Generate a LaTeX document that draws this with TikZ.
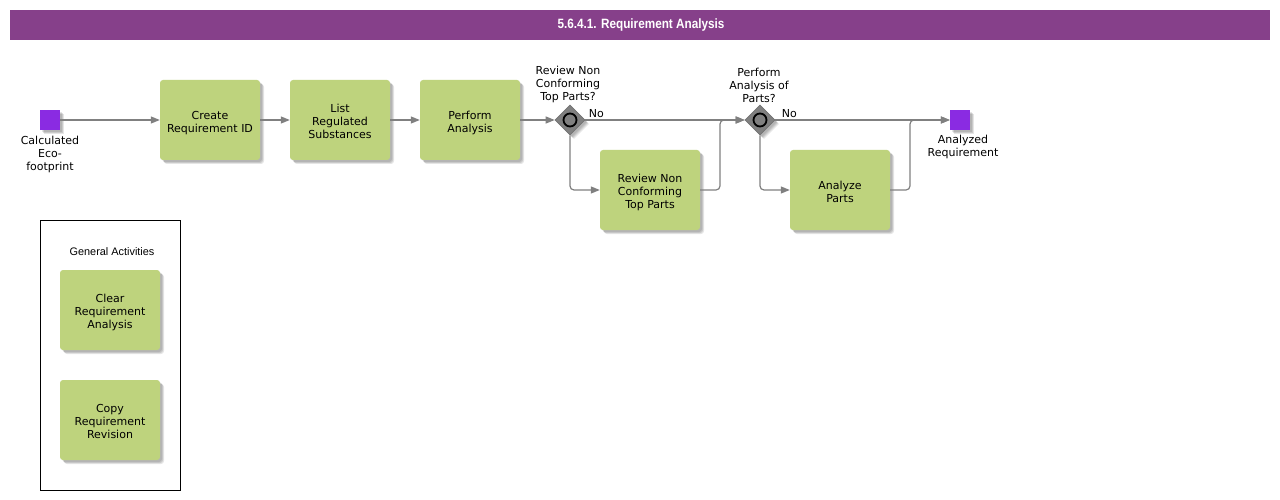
\documentclass[tikz,border=0pt]{standalone}
\usepackage{fontspec}
\setmainfont{DejaVu Sans}
\newfontfamily\titlefont{Liberation Sans}[FakeStretch=0.87]
\newfontfamily\arialfont{Liberation Sans}
\usetikzlibrary{shapes.geometric,arrows.meta,shadows}
\definecolor{titlepurple}{HTML}{86408A}
\definecolor{taskgreen}{HTML}{BED37D}
\definecolor{eventpurple}{HTML}{8A2BE2}
\definecolor{linegray}{HTML}{808080}
\definecolor{gwgray}{HTML}{808080}
\newcommand{\tasktext}[1]{\raisebox{-3pt}[\height][\depth]{\begin{tabular}{@{}c@{}}#1\end{tabular}}}
\begin{document}
\begin{tikzpicture}[x=1pt,y=-1pt,
  shd/.style={
    drop shadow={shadow xshift=4pt, shadow yshift=-4pt, fill=black, opacity=0.10},
    drop shadow={shadow xshift=3pt, shadow yshift=-3pt, fill=black, opacity=0.12},
    drop shadow={shadow xshift=2pt, shadow yshift=-2pt, fill=black, opacity=0.10}},
  task/.style={rectangle, rounded corners=3pt, fill=taskgreen, minimum width=100pt, minimum height=80pt,
    align=center, font=\fontsize{11}{13}\selectfont, inner sep=2pt, shd},
  event/.style={rectangle, fill=eventpurple, minimum size=20pt, inner sep=0pt, shd},
  gateway/.style={diamond, fill=gwgray, draw=black!55, line width=0.6pt, minimum width=30pt, minimum height=30pt, inner sep=0pt, shd},
  gwcircle/.style={circle, draw=black, line width=1.8pt, fill=gwgray, minimum size=13pt, inner sep=0pt},
  flow/.style={draw=linegray, line width=1.2pt, -{Triangle[length=9pt,width=7pt]}, rounded corners=4pt},
  lbl/.style={font=\fontsize{11}{13}\selectfont, align=center, inner sep=1pt}
]
\useasboundingbox (0,0) rectangle (1280,500);
\fill[white] (0,0) rectangle (1280,500);

% title bar
\fill[titlepurple] (10,10) rectangle (1270,40);
\node[font=\titlefont\bfseries\fontsize{13.5}{15}\selectfont, text=white] (title) at (641,25.5) {5.6.4.1. Requirement Analysis};

% events
\node[event] (start) at (50,120) {};
\node[lbl, anchor=north] (startlbl) at (50,135) {Calculated\\Eco-\\footprint};
\node[event] (end) at (960,120) {};
\node[lbl, anchor=north] (endlbl) at (963,134) {Analyzed\\Requirement};

% tasks
\node[task] (create) at (210,120) {\tasktext{Create\\Requirement ID}};
\node[task] (list) at (340,120) {\tasktext{List\\Regulated\\Substances}};
\node[task] (perform) at (470,120) {\tasktext{Perform\\Analysis}};
\node[task] (review) at (650,190) {\tasktext{Review Non\\Conforming\\Top Parts}};
\node[task] (analyze) at (840,190) {\tasktext{Analyze\\Parts}};

% gateways
\node[gateway] (g1) at (570,120) {};
\node[gwcircle] (g1c) at (570,120) {};
\node[lbl, anchor=south] (g1lbl) at (568,104) {Review Non\\Conforming\\Top Parts?};
\node[gateway] (g2) at (760,120) {};
\node[gwcircle] (g2c) at (760,120) {};
\node[lbl, anchor=south] (g2lbl) at (759,104) {Perform\\Analysis of\\Parts?};

% flows
\draw[flow] (start) -- (create);
\draw[flow] (create) -- (list);
\draw[flow] (list) -- (perform);
\draw[flow] (perform) -- (g1);
\draw[flow] (g1.east) -- node[lbl, above, pos=0.07, inner sep=2pt] (no1) {No} (g2.west);
\draw[flow] (g1.south) |- (review.west);
\coordinate (j1) at (720,120);
\draw[flow] (review.east) -| (j1) -- (g2.west);
\draw[flow] (g2.east) -- node[lbl, above, pos=0.08, inner sep=2pt] (no2) {No} (end.west);
\draw[flow] (g2.south) |- (analyze.west);
\coordinate (j2) at (910,120);
\draw[flow] (analyze.east) -| (j2) -- (end.west);

% general activities
\draw[black, line width=0.8pt] (40,220) rectangle (180,490);
\node[font=\arialfont\fontsize{10.9}{13}\selectfont, inner sep=0pt] (galbl) at (112,252) {General Activities};
\node[task] (clear) at (110,310) {\tasktext{Clear\\Requirement\\Analysis}};
\node[task] (copy) at (110,420) {\tasktext{Copy\\Requirement\\Revision}};
\end{tikzpicture}
\end{document}
